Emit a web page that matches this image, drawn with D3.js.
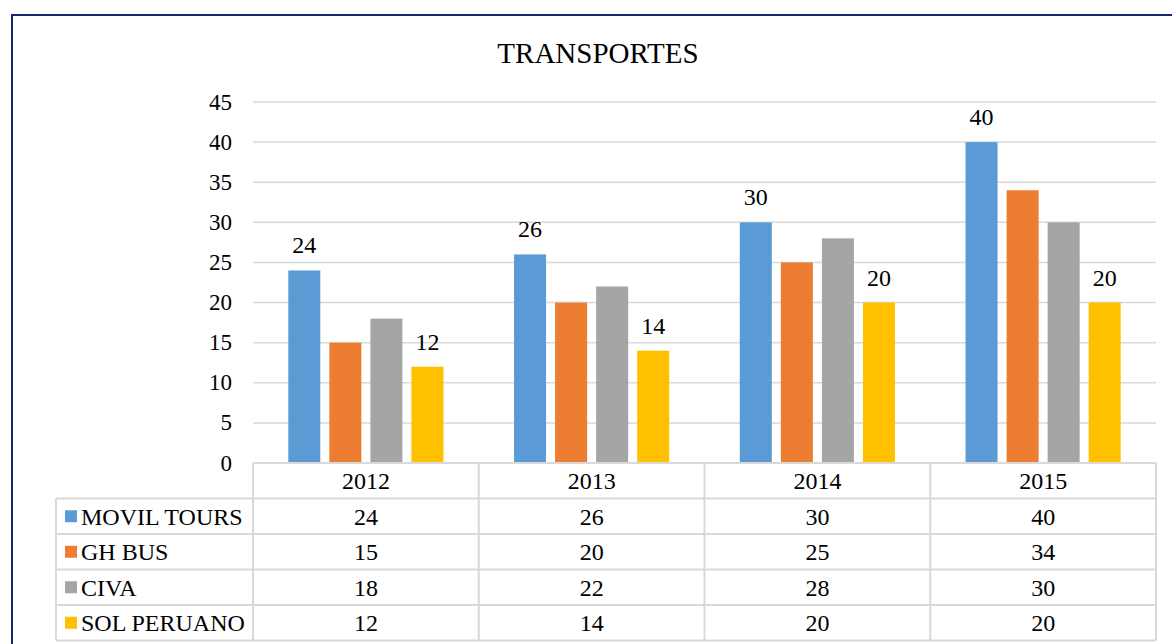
<!DOCTYPE html>
<html>
<head>
<meta charset="utf-8">
<script src="https://cdn.jsdelivr.net/npm/d3@7"></script>
<style>
  html, body { margin: 0; padding: 0; background: #fff; }
</style>
</head>
<body>
<div id="chart"></div>
<script>
// chart data
var years = ["2012", "2013", "2014", "2015"];
var seriesNames = ["MOVIL TOURS", "GH BUS", "CIVA", "SOL PERUANO"];
var movilTours = [24, 26, 30, 40];
var ghBus = [15, 20, 25, 34];
var civa = [18, 22, 28, 30];
var solPeruano = [12, 14, 20, 20];
var yTicks = [0, 5, 10, 15, 20, 25, 30, 35, 40, 45];
var colors = ["#5b9bd5", "#ed7d31", "#a5a5a5", "#ffc000"];
var labelled = [true, false, false, true]; // only first and last series carry data labels

var seriesValues = [movilTours, ghBus, civa, solPeruano];

var width = 1172, height = 644;
var plotLeft = 253, plotRight = 1156, plotTop = 102, plotBottom = 463;
var tableLeft = 56, rowH = 35.5, fontSize = 23, tableFont = 24;
var serif = "'Liberation Serif', Tinos, 'Times New Roman', Times, 'DejaVu Serif', serif";

var svg = d3.select("#chart").append("svg")
    .attr("width", width)
    .attr("height", height)
    .attr("font-family", serif);

// outer frame
svg.append("rect")
    .attr("x", 12).attr("y", 15)
    .attr("width", 1200).attr("height", 700)
    .attr("fill", "none")
    .attr("stroke", "#0e2a6b")
    .attr("stroke-width", 2);

// title
svg.append("text")
    .attr("x", 598).attr("y", 63)
    .attr("text-anchor", "middle")
    .attr("font-family", serif)
    .attr("font-size", 29)
    .text("TRANSPORTES");

var y = d3.scaleLinear().domain([0, 45]).range([plotBottom, plotTop]);

var x0 = d3.scaleBand()
    .domain(years)
    .range([plotLeft, plotRight])
    .padding(0);

var x1 = d3.scaleBand()
    .domain(seriesNames)
    .range([0, x0.bandwidth()])
    .paddingInner(0.22)
    .paddingOuter(0.86);

// gridlines
svg.append("g")
    .selectAll("line")
    .data(yTicks.filter(function (d) { return d > 0; }))
    .enter().append("line")
    .attr("x1", plotLeft).attr("x2", plotRight)
    .attr("y1", function (d) { return y(d); })
    .attr("y2", function (d) { return y(d); })
    .attr("stroke", "#d9d9d9")
    .attr("stroke-width", 1.5);

// y axis labels
svg.append("g")
    .selectAll("text")
    .data(yTicks)
    .enter().append("text")
    .attr("x", 232)
    .attr("y", function (d) { return y(d); })
    .attr("dy", "0.33em")
    .attr("text-anchor", "end")
    .attr("font-family", serif)
    .attr("font-size", fontSize)
    .text(function (d) { return d; });

// bars
var groups = svg.append("g")
    .selectAll("g")
    .data(years)
    .enter().append("g")
    .attr("transform", function (d) { return "translate(" + x0(d) + ",0)"; });

groups.selectAll("rect")
    .data(function (d, i) {
        return seriesNames.map(function (s, j) {
            return { name: s, value: seriesValues[j][i], idx: j };
        });
    })
    .enter().append("rect")
    .attr("x", function (d) { return x1(d.name); })
    .attr("y", function (d) { return y(d.value); })
    .attr("width", x1.bandwidth())
    .attr("height", function (d) { return y(0) - y(d.value); })
    .attr("fill", function (d) { return colors[d.idx]; });

// data labels
groups.selectAll("text.lbl")
    .data(function (d, i) {
        return seriesNames.map(function (s, j) {
            return { name: s, value: seriesValues[j][i], idx: j };
        }).filter(function (d) { return labelled[d.idx]; });
    })
    .enter().append("text")
    .attr("class", "lbl")
    .attr("x", function (d) { return x1(d.name) + x1.bandwidth() / 2; })
    .attr("y", function (d) { return y(d.value) - 17; })
    .attr("text-anchor", "middle")
    .attr("font-family", serif)
    .attr("font-size", tableFont)
    .text(function (d) { return d.value; });

// data table
var table = svg.append("g");
var lineColor = "#d9d9d9";
var tableBottom = plotBottom + rowH * 5;

// horizontal lines
table.append("line")
    .attr("x1", plotLeft).attr("x2", plotRight)
    .attr("y1", plotBottom).attr("y2", plotBottom)
    .attr("stroke", lineColor).attr("stroke-width", 2);
d3.range(1, 6).forEach(function (r) {
    table.append("line")
        .attr("x1", tableLeft).attr("x2", plotRight)
        .attr("y1", plotBottom + r * rowH).attr("y2", plotBottom + r * rowH)
        .attr("stroke", lineColor).attr("stroke-width", 2);
});

// vertical lines
table.append("line")
    .attr("x1", tableLeft).attr("x2", tableLeft)
    .attr("y1", plotBottom + rowH).attr("y2", tableBottom)
    .attr("stroke", lineColor).attr("stroke-width", 2);
years.concat([null]).forEach(function (yr) {
    var xx = yr ? x0(yr) : plotRight;
    table.append("line")
        .attr("x1", xx).attr("x2", xx)
        .attr("y1", plotBottom).attr("y2", tableBottom)
        .attr("stroke", lineColor).attr("stroke-width", 2);
});

// header (years)
table.selectAll("text.year")
    .data(years)
    .enter().append("text")
    .attr("class", "year")
    .attr("x", function (d) { return x0(d) + x0.bandwidth() / 2; })
    .attr("y", plotBottom + rowH / 2)
    .attr("dy", "0.35em")
    .attr("text-anchor", "middle")
    .attr("font-family", serif)
    .attr("font-size", tableFont)
    .text(function (d) { return d; });

// rows
seriesNames.forEach(function (name, j) {
    var rowMid = plotBottom + rowH * (j + 1) + rowH / 2;

    table.append("rect")
        .attr("x", 65).attr("y", rowMid - 6)
        .attr("width", 12).attr("height", 12)
        .attr("fill", colors[j]);

    table.append("text")
        .attr("x", 81).attr("y", rowMid)
        .attr("dy", "0.35em")
        .attr("font-family", serif)
        .attr("font-size", tableFont)
        .text(name);

    table.selectAll("text.v" + j)
        .data(seriesValues[j])
        .enter().append("text")
        .attr("class", "v" + j)
        .attr("x", function (d, i) { return x0(years[i]) + x0.bandwidth() / 2; })
        .attr("y", rowMid)
        .attr("dy", "0.35em")
        .attr("text-anchor", "middle")
        .attr("font-family", serif)
        .attr("font-size", tableFont)
        .text(function (d) { return d; });
});
</script>
</body>
</html>
